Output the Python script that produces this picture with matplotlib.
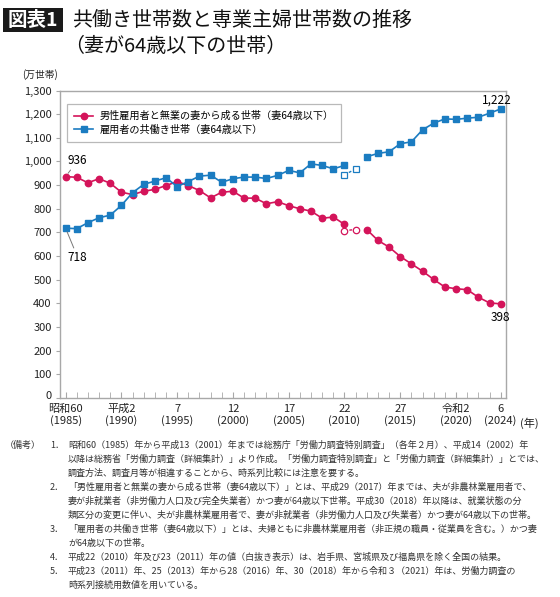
import matplotlib
matplotlib.use('Agg')
import matplotlib.pyplot as plt
import matplotlib.transforms as mtransforms
from matplotlib.patches import Rectangle

plt.rcParams['font.family'] = ['Noto Sans CJK JP', 'DejaVu Sans']

# --- data (万世帯) ---
years_a = list(range(1985, 2011))
house_a = [936, 933, 910, 927, 908, 870, 860, 874, 882, 898, 915, 898, 877,
           846, 870, 874, 845, 845, 821, 830, 813, 800, 790, 760, 765, 734]
dual_a = [718, 716, 741, 762, 773, 814, 868, 903, 917, 931, 894, 915, 938,
          942, 912, 927, 934, 934, 928, 941, 962, 952, 990, 983, 969, 983]
# 白抜き表示 (岩手・宮城・福島を除く)
years_h = [2010, 2011]
house_h = [708, 712]
dual_h = [944, 968]
years_b = list(range(2012, 2025))
house_b = [712, 666, 638, 598, 567, 536, 501, 469, 462, 458, 426, 402, 398]
dual_b = [1020, 1034, 1041, 1075, 1083, 1134, 1162, 1180, 1178, 1183, 1187, 1204, 1222]

tick_years = [1985, 1990, 1995, 2000, 2005, 2010, 2015, 2020, 2024]
tick_labels = ['昭和60\n(1985)', '平成2\n(1990)', '7\n(1995)', '12\n(2000)',
               '17\n(2005)', '22\n(2010)', '27\n(2015)', '令和2\n(2020)', '6\n(2024)']

label_house = '男性雇用者と無業の妻から成る世帯（妻64歳以下）'
label_dual = '雇用者の共働き世帯（妻64歳以下）'

notes = [
    ('1．', '昭和60（1985）年から平成13（2001）年までは総務庁「労働力調査特別調査」（各年２月）、平成14（2002）年'),
    ('', '以降は総務省「労働力調査（詳細集計）」より作成。「労働力調査特別調査」と「労働力調査（詳細集計）」とでは、'),
    ('', '調査方法、調査月等が相違することから、時系列比較には注意を要する。'),
    ('2．', '「男性雇用者と無業の妻から成る世帯（妻64歳以下）」とは、平成29（2017）年までは、夫が非農林業雇用者で、'),
    ('', '妻が非就業者（非労働力人口及び完全失業者）かつ妻が64歳以下世帯。平成30（2018）年以降は、就業状態の分'),
    ('', '類区分の変更に伴い、夫が非農林業雇用者で、妻が非就業者（非労働力人口及び失業者）かつ妻が64歳以下の世帯。'),
    ('3．', '「雇用者の共働き世帯（妻64歳以下）」とは、夫婦ともに非農林業雇用者（非正規の職員・従業員を含む。）かつ妻'),
    ('', 'が64歳以下の世帯。'),
    ('4．', '平成22（2010）年及び23（2011）年の値（白抜き表示）は、岩手県、宮城県及び福島県を除く全国の結果。'),
    ('5．', '平成23（2011）年、25（2013）年から28（2016）年、30（2018）年から令和３（2021）年は、労働力調査の'),
    ('', '時系列接続用数値を用いている。'),
]

pink = '#d4145a'
blue = '#1b7cc1'
gray = '#a8a8a8'

W, H = 560, 597
fig = plt.figure(figsize=(W / 100, H / 100), dpi=100)
ax = fig.add_axes([60 / W, 1 - 398 / H, 445.7 / W, 307.5 / H])

ms_c = 4.6
ms_s = 4.0
ax.plot(years_a, house_a, color=pink, marker='o', ms=ms_c, lw=1.2, label=label_house)
ax.plot(years_a, dual_a, color=blue, marker='s', ms=ms_s, lw=1.2, label=label_dual)
ax.plot(years_h, house_h, color=pink, marker='o', ms=ms_c, lw=1.0, ls=(0, (2, 1.5)),
        mfc='white', mec=pink, mew=0.9)
ax.plot(years_h, dual_h, color=blue, marker='s', ms=ms_s, lw=1.0, ls=(0, (2, 1.5)),
        mfc='white', mec=blue, mew=0.9)
ax.plot(years_b, house_b, color=pink, marker='o', ms=ms_c, lw=1.2)
ax.plot(years_b, dual_b, color=blue, marker='s', ms=ms_s, lw=1.2)

ax.set_xlim(1984.5, 2024.45)
ax.set_ylim(0, 1300)
ax.set_yticks(range(0, 1301, 100))
ax.set_yticklabels([f'{v:,}' for v in range(0, 1301, 100)], fontsize=8, color='#222222')
ax.set_xticks(tick_years)
ax.set_xticklabels(tick_labels, fontsize=8, color='#222222', linespacing=1.12)
ax.set_xticks(range(1985, 2025), minor=True)
ax.tick_params(axis='x', which='both', direction='in', length=4, color=gray, pad=4)
ax.tick_params(axis='y', direction='out', length=3, color=gray, pad=3)
for s in ax.spines.values():
    s.set_color(gray)
    s.set_linewidth(1.0)

# lift the "0" label a little so it clears the year labels
zero_lbl = ax.get_yticklabels()[0]
zero_lbl.set_transform(zero_lbl.get_transform() +
                       mtransforms.ScaledTranslation(0, 3 / 100, fig.dpi_scale_trans))

leg = ax.legend(loc='upper left', bbox_to_anchor=(0.0157, 0.956), borderaxespad=0,
                fontsize=7.3, frameon=True, fancybox=False, edgecolor=gray,
                handlelength=1.9, handletextpad=0.6, borderpad=0.7, labelspacing=0.3)
leg.get_frame().set_linewidth(0.9)

# value labels
ax.annotate(f'{house_a[0]}', xy=(years_a[0], house_a[0]), xytext=(1985.2, 1003),
            fontsize=8.5, ha='left', va='center',
            arrowprops=dict(arrowstyle='-', color='#777777', lw=0.7, shrinkA=0, shrinkB=3))
ax.annotate(f'{dual_a[0]}', xy=(years_a[0], dual_a[0]), xytext=(1985.2, 595),
            fontsize=8.5, ha='left', va='center',
            arrowprops=dict(arrowstyle='-', color='#777777', lw=0.7, shrinkA=0, shrinkB=3))
ax.annotate(f'{dual_b[-1]:,}', xy=(years_b[-1], dual_b[-1]), xytext=(-3, 6),
            textcoords='offset points', fontsize=8.5, ha='center', va='center')
ax.annotate(f'{house_b[-1]}', xy=(years_b[-1], house_b[-1]), xytext=(0, -10),
            textcoords='offset points', fontsize=8.5, ha='center', va='center')

fig.text(22 / W, 1 - 75 / H, '(万世帯)', fontsize=7, ha='left', va='center', color='#222222')
fig.text(520 / W, 1 - 423 / H, '(年)', fontsize=8, ha='left', va='center', color='#222222')

# title
fig.patches.append(Rectangle((3 / W, 1 - 32 / H), 60 / W, 24 / H, transform=fig.transFigure,
                             facecolor='#1a1a1a', edgecolor='none'))
fig.text(33 / W, 1 - 20.5 / H, '図表1', fontsize=14, color='white', ha='center',
         va='center', fontweight='bold')
fig.text(72 / W, 1 - 20.5 / H, '共働き世帯数と専業主婦世帯数の推移', fontsize=14.4,
         color='#111111', ha='left', va='center')
fig.text(64 / W, 1 - 47 / H, '（妻が64歳以下の世帯）', fontsize=14.4,
         color='#111111', ha='left', va='center')

# notes
y0 = 445
step = 14.0
fs_note = 6.5
fig.text(5 / W, 1 - y0 / H, '（備考）', fontsize=fs_note, color='#333333', ha='left', va='center')
for i, (num, txt) in enumerate(notes):
    y = 1 - (y0 + i * step) / H
    if num:
        fig.text(50 / W, y, num, fontsize=fs_note, color='#333333', ha='left', va='center')
    fig.text(68 / W, y, txt, fontsize=fs_note, color='#333333', ha='left', va='center')

fig.savefig('out.png', dpi=100, facecolor='white')
